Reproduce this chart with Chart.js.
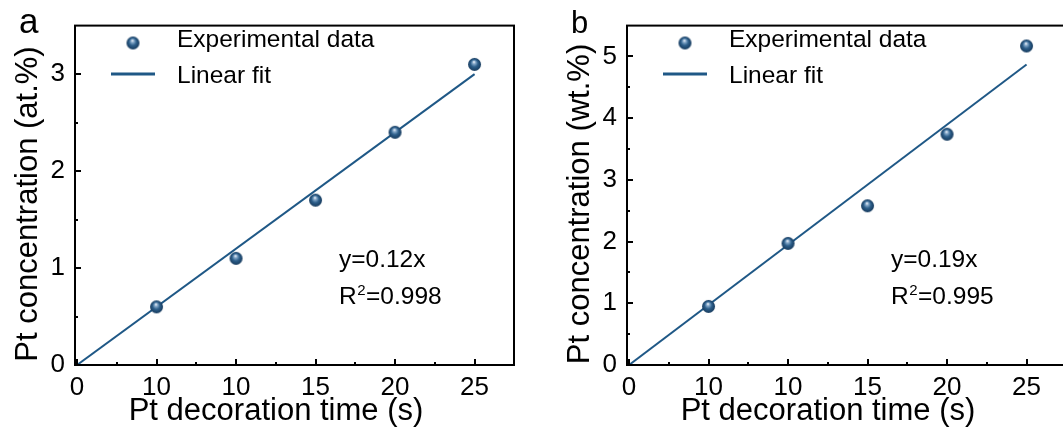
<!DOCTYPE html>
<html>
<head>
<meta charset="utf-8">
<script src="https://cdn.jsdelivr.net/npm/chart.js@4/dist/chart.umd.min.js"></script>
<style>
    html, body { margin: 0; padding: 0; background: #fff; overflow: hidden; }
    body { width: 1063px; height: 437px; position: relative; }
    canvas { position: absolute; top: 0; }
    #chartA { left: 0; }
    #chartB { left: 530px; }
</style>
</head>
<body>
<canvas id="chartA" width="530" height="437"></canvas>
<canvas id="chartB" width="545" height="437"></canvas>
<script>
// Pt decoration time vs Pt concentration, two panels

const xTickValues = [0, 5, 10, 15, 20, 25];
const xTickLabels = ["0", "10", "10", "15", "20", "25"];

const timeA = [5, 10, 15, 20, 25];
const atPct = [0.6, 1.1, 1.7, 2.4, 3.1];
const fitXA = [0, 25];
const fitAt = [0, 3.0];
const yTicksA = [0, 1, 2, 3];

const timeB = [5, 10, 15, 20, 25];
const wtPct = [0.95, 1.97, 2.58, 3.74, 5.17];
const fitXB = [0, 25];
const fitWt = [0, 4.87];
const yTicksB = [0, 1, 2, 3, 4, 5];

const FONT = "'Liberation Sans', Arial, Helvetica, sans-serif";
const LINE_COLOR = "#1f5886";

// shaded ball marker
function ballSprite(r) {
    const size = Math.ceil(r * 2) + 2;
    const c = document.createElement("canvas");
    c.width = c.height = size;
    const g = c.getContext("2d");
    const cx = size / 2, cy = size / 2;
    const grad = g.createRadialGradient(cx - 0.6, cy - 2.6, 0.2, cx, cy, r);
    grad.addColorStop(0, "#f0f5fa");
    grad.addColorStop(0.22, "#86a9ca");
    grad.addColorStop(0.55, "#2d5f8b");
    grad.addColorStop(1, "#15395c");
    g.fillStyle = grad;
    g.beginPath();
    g.arc(cx, cy, r, 0, Math.PI * 2);
    g.fill();
    return c;
}
const ball = ballSprite(6.5);

// frame, inward ticks, legend, labels
const decorPlugin = {
    id: "decor",
    afterDraw(chart, args, o) {
        const ctx = chart.ctx;
        const { left, right, top, bottom } = chart.chartArea;
        const xs = chart.scales.x, ys = chart.scales.y;
        ctx.save();

        ctx.strokeStyle = "#000";
        ctx.lineWidth = 2;
        ctx.strokeRect(left, top, right - left, bottom - top);

        ctx.beginPath();
        xTickValues.forEach(v => {
            const px = Math.round(xs.getPixelForValue(v));
            ctx.moveTo(px, bottom);
            ctx.lineTo(px, bottom - 6);
            const mid = v + 2.5;
            if (mid <= xs.max) {
                const mx = Math.round(xs.getPixelForValue(mid));
                ctx.moveTo(mx, bottom);
                ctx.lineTo(mx, bottom - 3);
            }
        });
        o.yTicks.forEach(v => {
            const py = Math.round(ys.getPixelForValue(v));
            ctx.moveTo(left, py);
            ctx.lineTo(left + 6, py);
            const mid = v + 0.5;
            if (mid < ys.max) {
                const my = Math.round(ys.getPixelForValue(mid));
                ctx.moveTo(left, my);
                ctx.lineTo(left + 3, my);
            }
        });
        ctx.stroke();

        ctx.fillStyle = "#000";
        ctx.textBaseline = "alphabetic";

        // panel letter
        ctx.font = o.letterSize + "px " + FONT;
        ctx.textAlign = "left";
        ctx.fillText(o.letter, left - 56, 33);

        // legend
        ctx.drawImage(ball, left + 58 - ball.width / 2, 43 - ball.height / 2);
        ctx.strokeStyle = LINE_COLOR;
        ctx.lineWidth = 3;
        ctx.beginPath();
        ctx.moveTo(left + 36, 74);
        ctx.lineTo(left + 80, 74);
        ctx.stroke();
        ctx.font = "24.5px " + FONT;
        ctx.fillText("Experimental data", left + 102, 47);
        ctx.fillText("Linear fit", left + 102, 83);

        // fit equation
        const ex = left + 264;
        ctx.font = "24.5px " + FONT;
        ctx.fillText(o.equation, ex, 267);
        ctx.fillText("R", ex, 304);
        let w = ctx.measureText("R").width;
        ctx.font = "15px " + FONT;
        ctx.fillText("2", ex + w + 0.5, 295);
        w += ctx.measureText("2").width + 1;
        ctx.font = "24.5px " + FONT;
        ctx.fillText(o.r2, ex + w, 304);

        // axis titles
        ctx.font = "31px " + FONT;
        ctx.textAlign = "center";
        ctx.fillText("Pt decoration time (s)", left + 201, 420);
        ctx.translate(left - 38, 204);
        ctx.rotate(-Math.PI / 2);
        ctx.fillText(o.yTitle, 0, 0);

        ctx.restore();
    }
};

function makePanel(id, opts) {
    const canvas = document.getElementById(id);
    const points = opts.xs.map((x, i) => ({ x: x, y: opts.ys[i] }));
    const fit = opts.fitX.map((x, i) => ({ x: x, y: opts.fitY[i] }));

    new Chart(canvas, {
        type: "scatter",
        data: {
            datasets: [
                {
                    data: points,
                    pointStyle: ball,
                    pointRadius: 6,
                    clip: false
                },
                {
                    type: "line",
                    data: fit,
                    borderColor: LINE_COLOR,
                    borderWidth: 2,
                    pointRadius: 0,
                    fill: false
                }
            ]
        },
        options: {
            responsive: false,
            animation: false,
            events: [],
            layout: {
                padding: { top: 12, right: opts.padRight, bottom: 0, left: 0 }
            },
            plugins: {
                legend: { display: false },
                tooltip: { enabled: false },
                decor: opts.decor
            },
            scales: {
                x: {
                    type: "linear",
                    min: -0.126,
                    max: opts.xMax,
                    afterBuildTicks: s => { s.ticks = xTickValues.map(v => ({ value: v })); },
                    afterFit: s => { s.height = 72; },
                    grid: { display: false, drawTicks: false },
                    border: { display: false },
                    ticks: {
                        autoSkip: false,
                        maxRotation: 0,
                        padding: 7,
                        color: "#000",
                        font: { family: FONT, size: 26 },
                        callback: (v, i) => xTickLabels[i]
                    }
                },
                y: {
                    type: "linear",
                    min: 0,
                    max: opts.yMax,
                    afterBuildTicks: s => { s.ticks = opts.decor.yTicks.map(v => ({ value: v })); },
                    afterFit: s => { s.width = opts.yWidth; },
                    grid: { display: false, drawTicks: false },
                    border: { display: false },
                    ticks: {
                        padding: 10,
                        color: "#000",
                        font: { family: FONT, size: 26 },
                        callback: v => String(v)
                    }
                }
            }
        },
        plugins: [decorPlugin]
    });
}

makePanel("chartA", {
    xs: timeA, ys: atPct, fitX: fitXA, fitY: fitAt,
    xMax: 27.48, yMax: 3.5, yWidth: 75, padRight: 16,
    decor: {
        letter: "a", letterSize: 35, yTicks: yTicksA,
        equation: "y=0.12x", r2: "=0.998",
        yTitle: "Pt concentration (at.%)"
    }
});

makePanel("chartB", {
    xs: timeB, ys: wtPct, fitX: fitXB, fitY: fitWt,
    xMax: 27.48, yMax: 5.5, yWidth: 97, padRight: 9,
    decor: {
        letter: "b", letterSize: 31, yTicks: yTicksB,
        equation: "y=0.19x", r2: "=0.995",
        yTitle: "Pt concentration (wt.%)"
    }
});
</script>
</body>
</html>
